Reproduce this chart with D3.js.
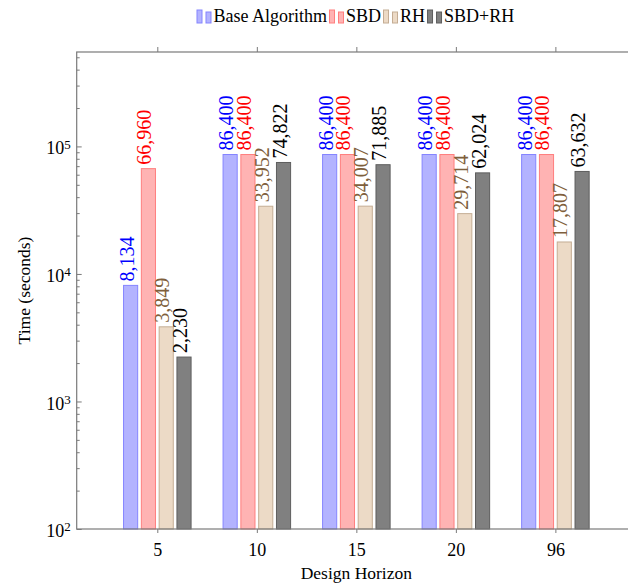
<!DOCTYPE html>
<html>
<head>
<meta charset="utf-8">
<script src="https://cdn.jsdelivr.net/npm/d3@7"></script>
<style>
    body { margin: 0; background: #fff; }
    svg text { font-family: 'Liberation Serif', 'Times New Roman', Times, 'DejaVu Serif', serif; }
</style>
</head>
<body>
<div class="vis-barchart"></div>
<script>
const horizons = ['5', '10', '15', '20', '96'];
const seriesNames = ['Base Algorithm', 'SBD', 'RH', 'SBD+RH'];
const baseAlgorithm = [8134, 86400, 86400, 86400, 86400];
const sbd = [66960, 86400, 86400, 86400, 86400];
const rh = [3849, 33952, 34007, 29714, 17807];
const sbdRh = [2230, 74822, 71885, 62024, 63632];
const yMajorTicks = [1e2, 1e3, 1e4, 1e5];
const yExponents = ['2', '3', '4', '5'];

const serifFont = "'Liberation Serif', 'Times New Roman', Times, 'DejaVu Serif', serif";

const draw = (props) => {
    const series = [baseAlgorithm, sbd, rh, sbdRh];
    const fills = ['#b3b3ff', '#ffb3b3', '#ecdac6', '#808080'];
    const strokes = ['#8585ff', '#ff7f7f', '#c4ad94', '#5e5e5e'];
    const labelColors = ['#0000ff', '#ff0000', '#7f5f3c', '#000000'];

    const margin = { top: 52, right: 636, bottom: 529, left: 76.7 };

    let svg = d3.select('.vis-barchart')
        .append('svg')
        .attr('width', props.width)
        .attr('height', props.height)
        .style('font-family', serifFont);

    let x = d3.scalePoint()
        .domain(horizons)
        .range([margin.left, margin.right])
        .padding(0.81);

    let xInner = d3.scaleBand()
        .domain(seriesNames)
        .range([-35.6, 35.6])
        .paddingInner(0.15)
        .paddingOuter(0.075);

    let y = d3.scaleLog()
        .domain([1e2, 5.5e5])
        .range([margin.bottom, margin.top]);

    // bars
    series.forEach((values, s) => {
        svg.append('g')
            .selectAll('rect')
            .data(values)
            .enter()
            .append('rect')
            .attr('x', (d, i) => x(horizons[i]) + xInner(seriesNames[s]) + 0.5)
            .attr('width', xInner.bandwidth() - 1)
            .attr('y', d => y(d))
            .attr('height', d => y(1e2) - y(d))
            .attr('fill', fills[s])
            .attr('stroke', strokes[s])
            .attr('stroke-width', 1);

        svg.append('g')
            .selectAll('text')
            .data(values)
            .enter()
            .append('text')
            .attr('transform', (d, i) => 'translate(' + (x(horizons[i]) + xInner(seriesNames[s]) + xInner.bandwidth() / 2) + ',' + (y(d) - 4) + ') rotate(-90)')
            .attr('dy', 3)
            .attr('fill', labelColors[s])
            .style('font-size', '20px')
            .text(d => d3.format(',')(d));
    });

    // frame
    svg.append('rect')
        .attr('x', margin.left)
        .attr('y', margin.top)
        .attr('width', margin.right - margin.left)
        .attr('height', margin.bottom - margin.top)
        .attr('fill', 'none')
        .attr('stroke', '#7a7a7a')
        .attr('stroke-width', 1.2);

    // y axis
    let yAxis = svg.append('g')
        .attr('transform', 'translate(' + margin.left + ',0)')
        .call(d3.axisLeft(y)
            .tickValues(yMajorTicks)
            .tickSizeInner(-5)
            .tickSizeOuter(0)
            .tickPadding(6)
            .tickFormat(''))
        .attr('font-family', null);
    yAxis.select('.domain').remove();
    yAxis.selectAll('line').attr('stroke', '#7a7a7a');

    let yLabels = yAxis.selectAll('.tick text')
        .attr('fill', '#000')
        .style('font-size', '18px')
        .attr('dy', '0.42em');
    yLabels.append('tspan').text('10');
    yLabels.append('tspan')
        .attr('dy', '-0.45em')
        .style('font-size', '13px')
        .text((d, i) => yExponents[i]);

    let minorTicks = y.ticks().filter(d => yMajorTicks.indexOf(d) < 0);
    let yMinor = svg.append('g')
        .attr('transform', 'translate(' + margin.left + ',0)')
        .call(d3.axisLeft(y)
            .tickValues(minorTicks)
            .tickSizeInner(-3)
            .tickSizeOuter(0)
            .tickFormat(''));
    yMinor.select('.domain').remove();
    yMinor.selectAll('line').attr('stroke', '#7a7a7a');

    // x axes
    let xAxis = svg.append('g')
        .attr('transform', 'translate(0,' + margin.bottom + ')')
        .call(d3.axisBottom(x)
            .tickSizeInner(4)
            .tickSizeOuter(0)
            .tickPadding(10))
        .attr('font-family', null);
    xAxis.select('.domain').remove();
    xAxis.selectAll('line').attr('stroke', '#7a7a7a');
    xAxis.selectAll('text')
        .attr('fill', '#000')
        .style('font-size', '18px');

    let xTop = svg.append('g')
        .attr('transform', 'translate(0,' + margin.top + ')')
        .call(d3.axisTop(x)
            .tickSizeInner(5)
            .tickSizeOuter(0)
            .tickFormat(''));
    xTop.select('.domain').remove();
    xTop.selectAll('line').attr('stroke', '#7a7a7a');

    // axis titles
    svg.append('text')
        .attr('x', (margin.left + margin.right) / 2)
        .attr('y', 579)
        .attr('text-anchor', 'middle')
        .style('font-size', '17.5px')
        .text('Design Horizon');

    svg.append('text')
        .attr('transform', 'translate(30,' + ((margin.top + margin.bottom) / 2) + ') rotate(-90)')
        .attr('text-anchor', 'middle')
        .style('font-size', '17.5px')
        .text('Time (seconds)');

    // legend
    let legendG = svg.append('g');
    let cursor = 0;
    seriesNames.forEach((name, s) => {
        let item = legendG.append('g')
            .attr('transform', 'translate(' + cursor + ',0)');
        item.append('rect')
            .attr('x', 0.5).attr('y', 10)
            .attr('width', 5).attr('height', 13)
            .attr('fill', fills[s]).attr('stroke', strokes[s]);
        item.append('rect')
            .attr('x', 9.5).attr('y', 12)
            .attr('width', 5).attr('height', 11)
            .attr('fill', fills[s]).attr('stroke', strokes[s]);
        let label = item.append('text')
            .attr('x', 17)
            .attr('y', 22)
            .style('font-size', '18px')
            .text(name);
        cursor += 17 + label.node().getComputedTextLength() + 2;
    });
    legendG.attr('transform', 'translate(' + ((margin.left + margin.right) / 2 - cursor / 2) + ',0)');
};

draw({ width: 628, height: 584 });
</script>
</body>
</html>
